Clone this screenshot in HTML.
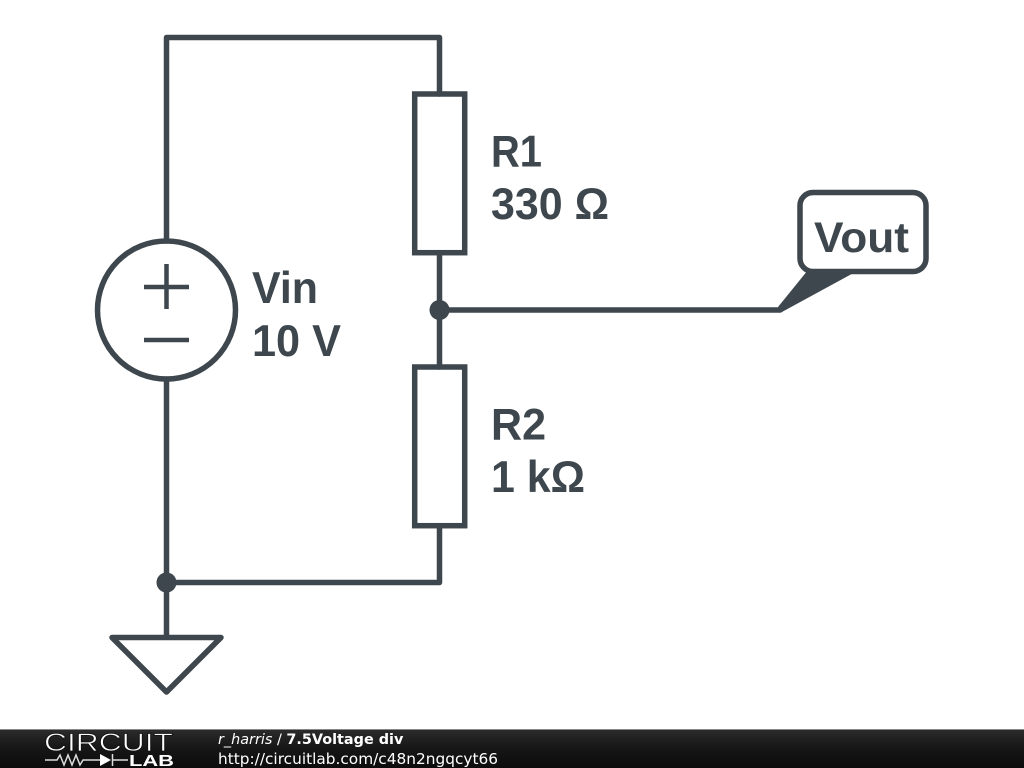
<!DOCTYPE html>
<html>
<head>
<meta charset="utf-8">
<style>
html,body{margin:0;padding:0;background:#fff;width:1024px;height:768px;overflow:hidden}
svg{display:block}
</style>
</head>
<body>
<svg width="1024" height="768" viewBox="0 0 1024 768" xmlns="http://www.w3.org/2000/svg">
<defs>
<linearGradient id="bar" x1="0" y1="0" x2="0" y2="1">
<stop offset="0" stop-color="#2c2c2c"/>
<stop offset="0.5" stop-color="#161616"/>
<stop offset="1" stop-color="#0c0c0c"/>
</linearGradient>
</defs>
<rect width="1024" height="768" fill="#fff"/>
<g fill="none" stroke="#3d474d" stroke-width="5.500" stroke-linecap="round" stroke-linejoin="round">
<path d="M166.500 241V37.500H439.500V94"/>
<path d="M439.500 253V367"/>
<path d="M439.500 526V582.500H166.500"/>
<path d="M166.500 379V637"/>
<path d="M439.500 310H780"/>
<rect x="414.700" y="94" width="50" height="158.700" stroke-linejoin="miter"/>
<rect x="414.700" y="367" width="50" height="158.700" stroke-linejoin="miter"/>
<circle cx="166.500" cy="310" r="69"/>
<path d="M112 637.500H221L166.500 692Z"/>
<rect x="800" y="192.500" width="126" height="79" rx="13" ry="13"/>
</g>
<g stroke="#3d474d" stroke-width="4.500" fill="none">
<path d="M144 287H189M166.500 264V309M144 340H189"/>
</g>
<circle cx="439.500" cy="310" r="10" fill="#3d474d"/>
<circle cx="166.500" cy="582.500" r="10" fill="#3d474d"/>
<path d="M808 270H859L781 312.500L778 307Z" fill="#3d474d"/>
<g font-family="'Liberation Sans',sans-serif" font-weight="700" font-size="44.500" fill="#3d474d">
<text x="491" y="166.500" textLength="51" lengthAdjust="spacingAndGlyphs">R1</text>
<text x="491" y="219" textLength="118" lengthAdjust="spacingAndGlyphs">330 Ω</text>
<text x="491" y="439.500" textLength="55" lengthAdjust="spacingAndGlyphs">R2</text>
<text x="491" y="492" textLength="94" lengthAdjust="spacingAndGlyphs">1 kΩ</text>
<text x="252" y="303" textLength="66" lengthAdjust="spacingAndGlyphs">Vin</text>
<text x="252" y="356" textLength="89" lengthAdjust="spacingAndGlyphs">10 V</text>
<text x="814" y="252" font-size="43" textLength="95" lengthAdjust="spacingAndGlyphs">Vout</text>
</g>
<rect y="729" width="1024" height="39" fill="url(#bar)"/>
<rect y="729" width="1024" height="1" fill="#888"/>
<text x="44" y="751" font-family="'Liberation Sans',sans-serif" font-size="25" fill="#fff" stroke="#111" stroke-width="0.7" textLength="129" lengthAdjust="spacingAndGlyphs">CIRCUIT</text>
<g fill="none" stroke="#ddd" stroke-width="1.500">
<path d="M45 760H57L60 755L64 765L68 755L72 765L76 755L80 765L83 760H100M112 760H128"/>
<path d="M112.500 754V766"/>
</g>
<path d="M100 754L111 760L100 766Z" fill="#fff"/>
<text x="129" y="766" font-family="'Liberation Sans',sans-serif" font-weight="700" font-size="15.500" fill="#fff" textLength="45" lengthAdjust="spacingAndGlyphs">LAB</text>
<g font-family="'DejaVu Sans',sans-serif" font-size="14.400" fill="#fff">
<text x="218" y="744"><tspan font-style="italic">r_harris</tspan> / <tspan font-weight="700">7.5Voltage div</tspan></text>
<text x="218" y="764" font-size="15.300" textLength="280" lengthAdjust="spacingAndGlyphs">http://circuitlab.com/c48n2ngqcyt66</text>
</g>
</svg>
</body>
</html>
